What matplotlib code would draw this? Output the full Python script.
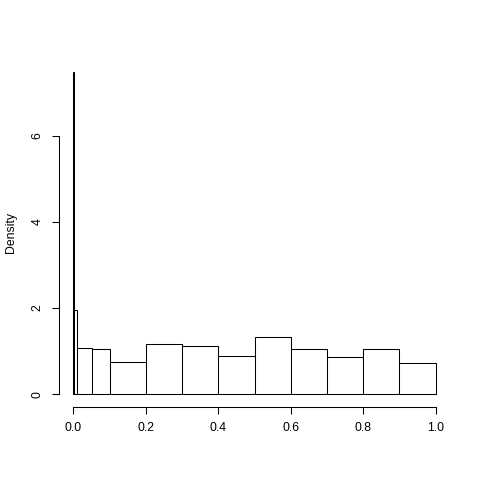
import matplotlib
matplotlib.use("Agg")
import matplotlib.pyplot as plt
import numpy as np

# bin edges and densities
edges = [0.0, 0.001, 0.01, 0.05, 0.1, 0.2, 0.3, 0.4, 0.5, 0.6, 0.7, 0.8, 0.9, 1.0]
density = [7.49, 1.95, 1.08, 1.04, 0.75, 1.155, 1.12, 0.876, 1.33, 1.047, 0.86, 1.047, 0.713]
xticks = [0.0, 0.2, 0.4, 0.6, 0.8, 1.0]
yticks = [0, 2, 4, 6]

plt.rcParams['font.family'] = ['Liberation Sans', 'DejaVu Sans']

fig = plt.figure(figsize=(4.8, 4.8), dpi=100)
ax = fig.add_axes([59/480, 73/480, 391/480, 348/480])

widths = np.diff(edges)
ax.bar(edges[:-1], density, width=widths, align='edge',
       facecolor='white', edgecolor='black', linewidth=0.75)

ymax = max(density)
ax.set_xlim(-0.04, 1.04)
ax.set_ylim(-0.04 * ymax, ymax * 1.04)

for s in ['top', 'right']:
    ax.spines[s].set_visible(False)
ax.spines['left'].set_bounds(0, 6)
ax.spines['bottom'].set_bounds(0, 1)
ax.spines['left'].set_linewidth(0.75)
ax.spines['bottom'].set_linewidth(0.75)

ax.set_xticks(xticks)
ax.set_xticklabels(['%.1f' % v for v in xticks])
ax.set_yticks(yticks)
ax.set_yticklabels([str(v) for v in yticks], rotation=90, va='center')
ax.tick_params(length=5, width=0.75, labelsize=8.8, pad=6)

# y label placed like R's ylab (line 3 of the left margin)
fig.text(11/480, 1 - 233/480, 'Density', rotation=90, ha='center', va='center',
         fontsize=8.8)

fig.savefig('out.png', dpi=100)
